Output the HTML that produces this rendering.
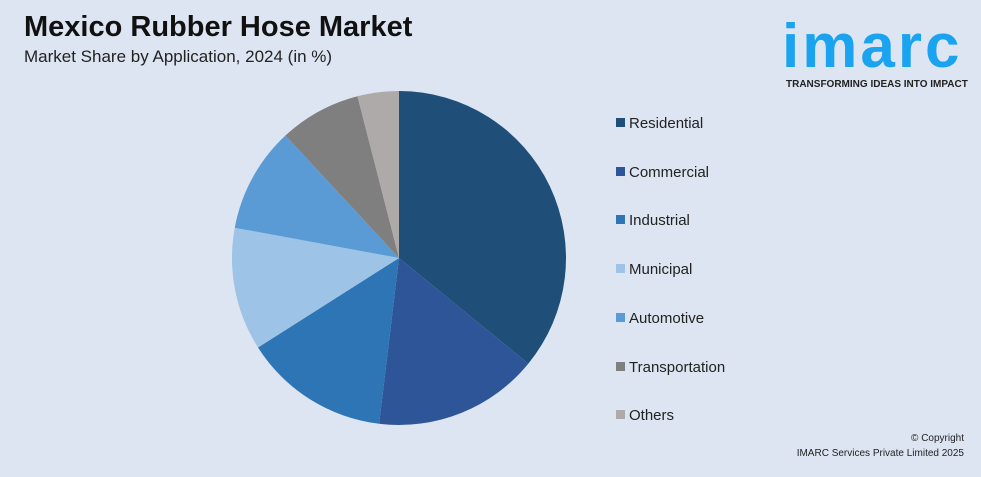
<!DOCTYPE html>
<html><head><meta charset="utf-8"><style>
body{margin:0;width:981px;height:477px;background:#dde5f2;font-family:"Liberation Sans",sans-serif;position:relative;overflow:hidden}
.t{position:absolute;left:24px;top:11px;font-size:29px;font-weight:bold;color:#111}
.s{position:absolute;left:24px;top:47px;font-size:17px;color:#222}
.leg{position:absolute;left:616px;font-size:15px;color:#222}
.leg span{display:inline-block;width:9px;height:9px;margin-right:4px;vertical-align:1px}
.logo{position:absolute;left:782px;top:16px;font-size:62px;font-weight:bold;color:#1aa3ef;letter-spacing:3px;line-height:62px}
.tag{position:absolute;left:786px;top:79px;font-size:10px;font-weight:bold;color:#222}
.c{position:absolute;right:17px;font-size:10px;color:#222;text-align:right}
</style></head><body>
<div class="t">Mexico Rubber Hose Market</div>
<div class="s">Market Share by Application, 2024 (in %)</div>
<div class="logo">imarc</div>
<div class="tag">TRANSFORMING IDEAS INTO IMPACT</div>
<div class="c" style="top:433px">© Copyright</div>
<div class="c" style="top:448px">IMARC Services Private Limited 2025</div>
<svg id="pie" width="981" height="477" style="position:absolute;left:0;top:0"></svg>
<div id="legend"></div>
<script>
const categories=["Residential","Commercial","Industrial","Municipal","Automotive","Transportation","Others"];
const values=[35.9,16.0,14.1,11.9,10.2,7.9,4.0];
const colors=["#1f4e79","#2e5597","#2e75b6","#9dc3e6","#5b9bd5","#7f7f7f","#aeaaaa"];
const cx=399,cy=258,r=167;
const svg=document.getElementById('pie');
const total=values.reduce((a,b)=>a+b,0);
let a0=0;
values.forEach((v,i)=>{
  const a1=a0+v/total*2*Math.PI;
  const x0=cx+r*Math.sin(a0),y0=cy-r*Math.cos(a0),x1=cx+r*Math.sin(a1),y1=cy-r*Math.cos(a1);
  const p=document.createElementNS("http://www.w3.org/2000/svg","path");
  p.setAttribute('d',`M${cx},${cy}L${x0},${y0}A${r},${r} 0 ${a1-a0>Math.PI?1:0} 1 ${x1},${y1}Z`);
  p.setAttribute('fill',colors[i]);
  
  
  svg.appendChild(p);a0=a1;
});
const lg=document.getElementById('legend');
categories.forEach((c,i)=>{
  const d=document.createElement('div');d.className='leg';d.style.top=(115+i*48.7)+'px';
  d.innerHTML=`<span style="background:${colors[i]}"></span>${c}`;
  
  
  lg.appendChild(d);
});
</script>
</body></html>
